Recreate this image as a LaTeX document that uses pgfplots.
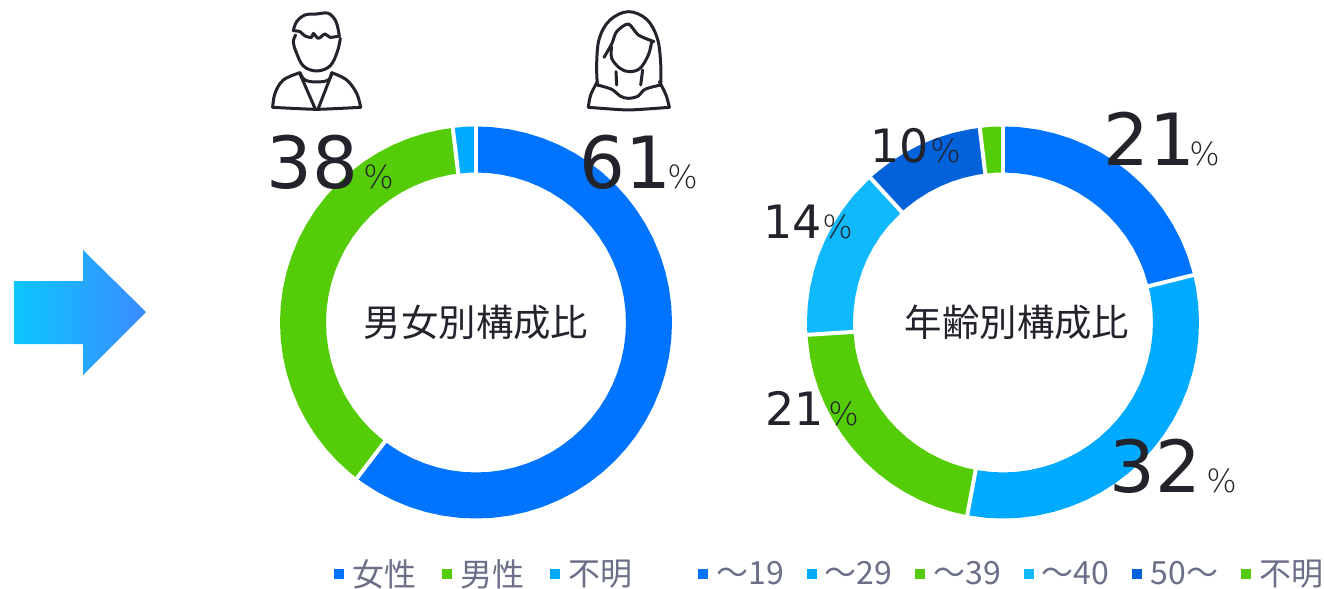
\documentclass[border=0pt]{standalone}
\usepackage{fontspec}
\usepackage{pgfplots}
\pgfplotsset{compat=1.18}
\setmainfont{Noto Sans CJK JP}
\newfontfamily\numfont{DejaVu Sans}
\newfontfamily\pctfont{DejaVu Sans ExtraLight}
\definecolor{cblue}{HTML}{0073FF}
\definecolor{csky}{HTML}{00AAFF}
\definecolor{cgreen}{HTML}{55CC08}
\definecolor{ccyan}{HTML}{10B9FC}
\definecolor{cdark}{HTML}{0362D9}
\definecolor{ink}{HTML}{22232B}
\definecolor{legtext}{HTML}{6C6F88}
\definecolor{arrowl}{HTML}{0DC6FF}
\definecolor{arrowr}{HTML}{3A8BFF}
% 1 px of the reference = 0.5pt
\pgfplotsset{
  donut/.style={width=200pt,height=200pt,scale only axis,anchor=center,hide axis,clip=false,
    xmin=-200,xmax=200,ymin=-200,ymax=200,
    legend cell align=left,
    legend image code/.code={\fill[##1,line width=0pt,draw=none] (0pt,-2.5pt) rectangle (5pt,2.5pt);},
    legend style={draw=none,fill=none,anchor=west,inner sep=0pt,text=legtext,
      font=\fontsize{16}{16}\selectfont,
      nodes={inner xsep=2pt,inner ysep=0pt},
      /tikz/every odd column/.append style={column sep=2pt}}},
  slice/.style={data cs=polar,line width=23pt,line cap=butt,line join=round,no markers},
  gap/.style={data cs=polar,white,line width=2pt,no markers,forget plot},
}
\newcommand{\pnum}[5]{% x, baseline, size, digits, x of %
  \node[anchor=base west,inner sep=0pt,text=ink,font=\numfont\fontsize{#3}{#3}\selectfont] at (axis cs:#1,#2) {#4};
  \node[anchor=base west,inner sep=0pt,text=ink,font=\pctfont\fontsize{16}{16}\selectfont] at (axis cs:#5,#2) {\%};}
\begin{document}
\begin{tikzpicture}
\useasboundingbox (0,0) rectangle (662pt,294.5pt);
% sex
\begin{axis}[donut,at={(238pt,133.25pt)},legend columns=3,
  legend style={at={(0.145,-0.13)},/tikz/every even column/.append style={column sep=11pt}}]
\addplot[slice,cblue] coordinates {(90,173)(85,173)(80,173)(75,173)(70,173)(65,173)(60,173)(55,173)(50,173)(45,173)(40,173)(35,173)(30,173)(25,173)(20,173)(15,173)(10,173)(5,173)(0,173)(-5,173)(-10,173)(-15,173)(-20,173)(-25,173)(-30,173)(-35,173)(-40,173)(-45,173)(-50,173)(-55,173)(-60,173)(-65,173)(-70,173)(-75,173)(-80,173)(-85,173)(-90,173)(-95,173)(-100,173)(-105,173)(-110,173)(-115,173)(-120,173)(-125,173)(-127.4,173)};
\addlegendentry{女性}
\addplot[slice,cgreen] coordinates {(232.6,173)(230,173)(225,173)(220,173)(215,173)(210,173)(205,173)(200,173)(195,173)(190,173)(185,173)(180,173)(175,173)(170,173)(165,173)(160,173)(155,173)(150,173)(145,173)(140,173)(135,173)(130,173)(125,173)(120,173)(115,173)(110,173)(105,173)(100,173)(96.8,173)};
\addlegendentry{男性}
\addplot[slice,csky] coordinates {(96.8,173)(93,173)(90,173)};
\addlegendentry{不明}
\addplot[gap] coordinates {(90,146)(90,200)};
\addplot[gap] coordinates {(-127.4,146)(-127.4,200)};
\addplot[gap] coordinates {(96.8,146)(96.8,200)};
\end{axis}
% age
\begin{axis}[donut,at={(501.5pt,133.25pt)},legend columns=6,
  legend style={at={(-0.2625,-0.13)},/tikz/every even column/.append style={column sep=9.5pt}}]
\addplot[slice,cblue] coordinates {(90,173)(85,173)(80,173)(75,173)(70,173)(65,173)(60,173)(55,173)(50,173)(45,173)(40,173)(35,173)(30,173)(25,173)(20,173)(14,173)};
\addlegendentry{～19}
\addplot[slice,csky] coordinates {(14,173)(10,173)(5,173)(0,173)(-5,173)(-10,173)(-15,173)(-20,173)(-25,173)(-30,173)(-35,173)(-40,173)(-45,173)(-50,173)(-55,173)(-60,173)(-65,173)(-70,173)(-75,173)(-80,173)(-85,173)(-90,173)(-95,173)(-100.5,173)};
\addlegendentry{～29}
\addplot[slice,cgreen] coordinates {(259.5,173)(255,173)(250,173)(245,173)(240,173)(235,173)(230,173)(225,173)(220,173)(215,173)(210,173)(205,173)(200,173)(195,173)(190,173)(183.6,173)};
\addlegendentry{～39}
\addplot[slice,ccyan] coordinates {(183.6,173)(180,173)(175,173)(170,173)(165,173)(160,173)(155,173)(150,173)(145,173)(140,173)(132.5,173)};
\addlegendentry{～40}
\addplot[slice,cdark] coordinates {(132.5,173)(130,173)(125,173)(120,173)(115,173)(110,173)(105,173)(100,173)(96.8,173)};
\addlegendentry{50～}
\addplot[slice,cgreen] coordinates {(96.8,173)(93,173)(90,173)};
\addlegendentry{不明}
\addplot[gap] coordinates {(90,146)(90,200)};
\addplot[gap] coordinates {(14,146)(14,200)};
\addplot[gap] coordinates {(-100.5,146)(-100.5,200)};
\addplot[gap] coordinates {(183.6,146)(183.6,200)};
\addplot[gap] coordinates {(132.5,146)(132.5,200)};
\addplot[gap] coordinates {(96.8,146)(96.8,200)};
\end{axis}
% labels, in reference pixels
\begin{axis}[at={(0pt,0pt)},anchor=south west,width=662pt,height=294.5pt,scale only axis,hide axis,clip=false,
  xmin=0,xmax=1324,ymin=0,ymax=589,y dir=reverse]
\addplot[draw=none,no markers,forget plot] coordinates {(0,0)(1324,589)};
\pnum{266}{188}{36}{38}{363}
\pnum{579}{188}{36}{61}{667}
\pnum{1103}{165}{36}{21}{1189}
\pnum{1109}{492}{36}{32}{1206}
\pnum{870}{162}{23}{10}{930}
\pnum{763}{238}{23}{14}{822}
\pnum{765}{425}{23}{21}{828}
\node[text=ink,inner sep=0pt,font=\fontsize{18.7}{19}\selectfont] at (axis cs:476,322) {男女別構成比};
\node[text=ink,inner sep=0pt,font=\fontsize{18.7}{19}\selectfont] at (axis cs:1017,322) {年齢別構成比};
\path[left color=arrowl,right color=arrowr] (axis cs:14,281)--(axis cs:83,281)--(axis cs:83,250)--(axis cs:146,312)--(axis cs:83,375)--(axis cs:83,344)--(axis cs:14,344)--cycle;
\end{axis}
% icons, coordinates in a 3x crop whose corner is reference pixel (250,0)
\begin{scope}[shift={(125pt,294.5pt)},x=0.16667pt,y=-0.16667pt,ink,line width=1.5pt,line join=round,line cap=round]
\draw plot[smooth,tension=0.6] coordinates {(130,92)(140,65)(165,45)(200,42)(235,40)(258,65)(268,108)};
\draw plot[smooth,tension=0.5] coordinates {(130,92)(150,95)(165,108)(185,112)(190,100)(205,115)(225,102)(240,112)(268,108)};
\draw plot[smooth,tension=0.6] coordinates {(137,105)(130,125)(138,155)(160,198)(200,213)(240,198)(262,155)(271,115)};
\draw plot[smooth,tension=0.6] coordinates {(150,218)(100,240)(75,280)(68,322)};
\draw plot[smooth,tension=0.6] coordinates {(245,218)(290,240)(320,280)(332,322)};
\draw plot[smooth,tension=0.3] coordinates {(68,322)(200,328)(332,322)};
\draw plot[smooth,tension=0.6] coordinates {(150,218)(165,240)(200,246)(235,240)(245,218)};
\draw (150,222)--(195,325) (245,222)--(205,325);
% woman
\draw plot[smooth,tension=0.6] coordinates {(1042,255)(1040,190)(1048,115)(1080,60)(1135,35)(1190,58)(1222,115)(1232,190)(1232,255)};
\draw plot[smooth,tension=0.5] coordinates {(1062,172)(1085,132)(1100,95)(1135,72)(1165,105)(1212,125)};
\draw plot[smooth,tension=0.6] coordinates {(1085,140)(1085,175)(1110,205)(1138,215)(1170,205)(1195,165)(1205,125)};
\draw (1098,215)--(1100,255) (1178,210)--(1172,255);
\draw plot[smooth,tension=0.6] coordinates {(1042,245)(1022,285)(1015,322)};
\draw plot[smooth,tension=0.6] coordinates {(1228,245)(1248,285)(1258,322)};
\draw plot[smooth,tension=0.3] coordinates {(1015,322)(1135,330)(1258,322)};
\draw plot[smooth,tension=0.6] coordinates {(1042,255)(1085,268)(1110,288)(1135,295)(1165,288)(1185,268)(1232,255)};
\end{scope}
\end{tikzpicture}
\end{document}
